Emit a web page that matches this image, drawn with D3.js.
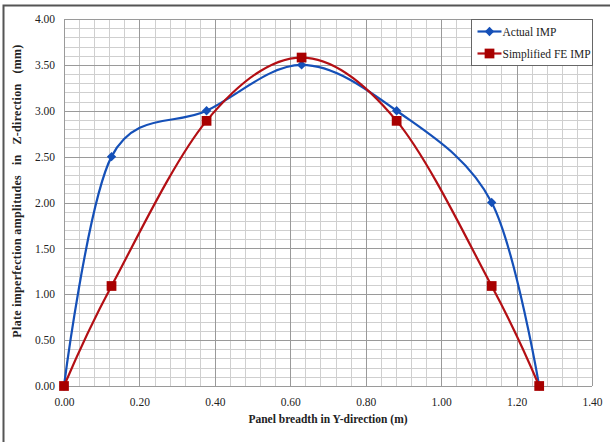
<!DOCTYPE html>
<html>
<head>
<meta charset="utf-8">
<script src="https://cdn.jsdelivr.net/npm/d3@7"></script>
<style>
  html, body { margin: 0; padding: 0; background: #fff; }
  svg { display: block; }
  text { font-family: "Liberation Serif", "Times New Roman", serif; fill: #222; }
</style>
</head>
<body>
<svg id="chart" width="610" height="442"></svg>
<script>
// Breadth positions across the panel (m)
const breadth = [0.000, 0.126, 0.378, 0.630, 0.882, 1.134, 1.260];
// Imperfection amplitudes (mm)
const actualIMP = [0.00, 2.50, 3.00, 3.50, 3.00, 2.00, 0.00];
const simplifiedIMP = [0.00, 1.09, 2.89, 3.58, 2.89, 1.09, 0.00];
const seriesNames = ["Actual IMP", "Simplified FE IMP"];
const xTicks = [0, 0.2, 0.4, 0.6, 0.8, 1.0, 1.2, 1.4];
const yTicks = [0, 0.5, 1.0, 1.5, 2.0, 2.5, 3.0, 3.5, 4.0];
const xLabel = "Panel breadth in Y-direction (m)";
const yLabel = "Plate imperfection amplitudes\u00a0\u00a0 in\u00a0\u00a0 Z-direction\u00a0\u00a0 (mm)";

const svg = d3.select("#chart");
const plot = { left: 64, right: 592, top: 19, bottom: 386 };

const x = d3.scaleLinear().domain([0, 1.4]).range([plot.left, plot.right]);
const y = d3.scaleLinear().domain([0, 4]).range([plot.bottom, plot.top]);

// Outer frame
svg.append("rect")
  .attr("x", 3.5).attr("y", 5.5).attr("width", 640).attr("height", 460)
  .attr("fill", "none").attr("stroke", "#555").attr("stroke-width", 2);

const g = svg.append("g");

// Minor grid
const xMinor = d3.range(0, 1.4001, 0.04);
const yMinor = d3.range(0, 4.0001, 0.1);
g.selectAll(".xminor").data(xMinor).join("line")
  .attr("x1", d => Math.round(x(d)) + 0.5).attr("x2", d => Math.round(x(d)) + 0.5)
  .attr("y1", plot.top).attr("y2", plot.bottom)
  .attr("stroke", "#cfcfcf").attr("stroke-width", 1);
g.selectAll(".yminor").data(yMinor).join("line")
  .attr("y1", d => Math.round(y(d)) + 0.5).attr("y2", d => Math.round(y(d)) + 0.5)
  .attr("x1", plot.left).attr("x2", plot.right)
  .attr("stroke", "#cfcfcf").attr("stroke-width", 1);

// Major grid
g.selectAll(".xmajor").data(xTicks).join("line")
  .attr("x1", d => Math.round(x(d)) + 0.5).attr("x2", d => Math.round(x(d)) + 0.5)
  .attr("y1", plot.top).attr("y2", plot.bottom)
  .attr("stroke", "#9a9a9a").attr("stroke-width", 1);
g.selectAll(".ymajor").data(yTicks).join("line")
  .attr("y1", d => Math.round(y(d)) + 0.5).attr("y2", d => Math.round(y(d)) + 0.5)
  .attr("x1", plot.left).attr("x2", plot.right)
  .attr("stroke", "#9a9a9a").attr("stroke-width", 1);

// Axes (labels only, no tick marks)
const xAxis = d3.axisBottom(x).tickValues(xTicks).tickFormat(d3.format(".2f")).tickSize(0).tickPadding(12);
const yAxis = d3.axisLeft(y).tickValues(yTicks).tickFormat(d3.format(".2f")).tickSize(0).tickPadding(9);
const gx = svg.append("g").attr("transform", `translate(0,${plot.bottom})`).call(xAxis);
const gy = svg.append("g").attr("transform", `translate(${plot.left},0)`).call(yAxis);
[gx, gy].forEach(a => {
  a.select(".domain").remove();
  a.selectAll("text").style("font-family", "'Liberation Serif', serif").style("font-size", "11.5px").attr("fill", "#222");
});

// Axis titles
svg.append("text")
  .attr("x", (plot.left + plot.right) / 2).attr("y", 423)
  .attr("text-anchor", "middle").attr("font-size", "11.5px").attr("font-weight", "bold")
  .text(xLabel);
svg.append("text")
  .attr("transform", "translate(21,191) rotate(-90)")
  .attr("text-anchor", "middle").attr("font-size", "12px").attr("font-weight", "bold")
  .attr("letter-spacing", "0.3px")
  .text(yLabel);

// Series
const series = [
  { name: seriesNames[0], values: actualIMP, color: "#1550b8", marker: "diamond" },
  { name: seriesNames[1], values: simplifiedIMP, color: "#b30f14", marker: "square" }
];

const line = d3.line()
  .x(d => x(d[0])).y(d => y(d[1]))
  .curve(d3.curveCardinal.tension(0));

const markerPath = (type) => type === "diamond"
  ? d3.symbol().type(d3.symbolDiamond2).size(55)()
  : d3.symbol().type(d3.symbolSquare).size(95)();

series.forEach(s => {
  const pts = breadth.map((b, i) => [b, s.values[i]]);
  svg.append("path").datum(pts)
    .attr("d", line).attr("fill", "none")
    .attr("stroke", s.color).attr("stroke-width", 2.2);
});
series.forEach(s => {
  const pts = breadth.map((b, i) => [b, s.values[i]]);
  svg.append("g").selectAll("path").data(pts).join("path")
    .attr("transform", d => `translate(${x(d[0])},${y(d[1])})`)
    .attr("d", markerPath(s.marker))
    .attr("fill", s.marker === "square" ? "#a80000" : s.color);
});

// Legend
const lg = svg.append("g").attr("transform", "translate(471.5,19.5)");
lg.append("rect").attr("width", 121).attr("height", 46)
  .attr("fill", "#fff").attr("stroke", "#666").attr("stroke-width", 1);
series.forEach((s, i) => {
  const cy = 12 + i * 22;
  lg.append("line").attr("x1", 6).attr("x2", 30).attr("y1", cy).attr("y2", cy)
    .attr("stroke", s.color).attr("stroke-width", 2.2);
  lg.append("path").attr("transform", `translate(18,${cy})`)
    .attr("d", markerPath(s.marker))
    .attr("fill", s.marker === "square" ? "#a80000" : s.color);
  lg.append("text").attr("x", 31).attr("y", cy + 4)
    .attr("font-size", "11.5px").text(s.name);
});
</script>
</body>
</html>
